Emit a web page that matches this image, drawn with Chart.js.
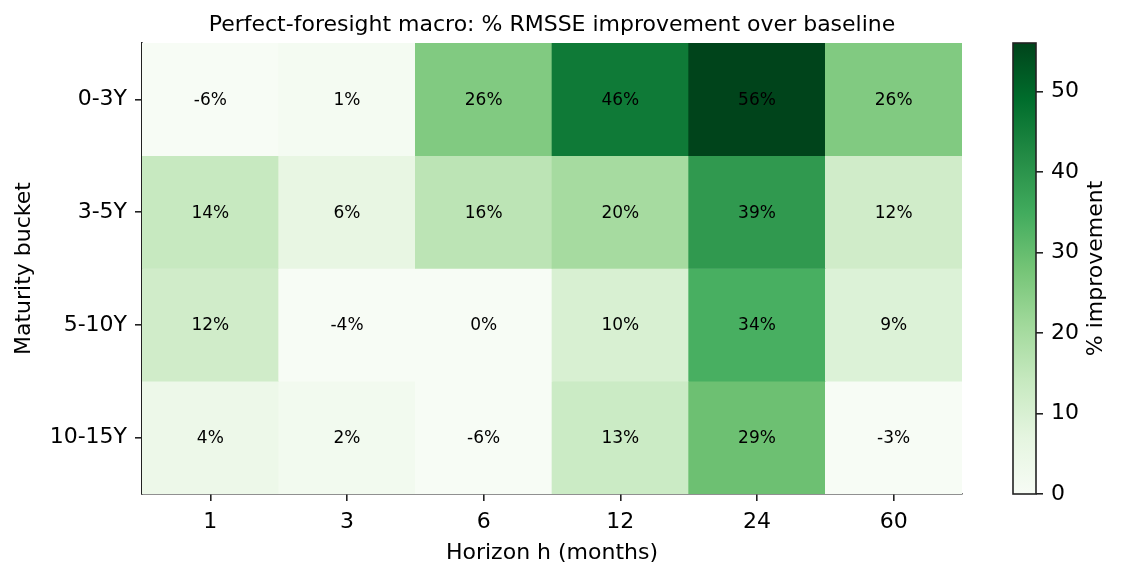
<!DOCTYPE html>
<html>
<head>
<meta charset="utf-8">
<script src="https://cdn.jsdelivr.net/npm/chart.js@4/dist/chart.umd.min.js"></script>
<style>
    body { margin: 0; background: #fff; }
    #wrap { position: relative; width: 1125px; height: 579px; }
    #wrap canvas { position: absolute; left: 0; top: 0; }
</style>
</head>
<body>
<div id="wrap">
    <canvas id="heat" width="1125" height="579"></canvas>
    <canvas id="cbar" width="1125" height="579"></canvas>
</div>
<script>
const horizons = ["1", "3", "6", "12", "24", "60"];
const buckets = ["0-3Y", "3-5Y", "5-10Y", "10-15Y"];
const improve0to3 = [-6, 1, 26, 46, 56, 26];
const improve3to5 = [14, 6, 16, 20, 39, 12];
const improve5to10 = [12, -4, 0, 10, 34, 9];
const improve10to15 = [4, 2, -6, 13, 29, -3];
const rows = [improve0to3, improve3to5, improve5to10, improve10to15];
const colorbarTicks = [0, 10, 20, 30, 40, 50];

// matplotlib "Greens"
const greens = ["#f7fcf5", "#e5f5e0", "#c7e9c0", "#a1d99b", "#74c476",
                "#41ab5d", "#238b45", "#006d2c", "#00441b"];
const vmin = 0;
const vmax = Math.max(...rows.flat());

function hexRgb(h) {
    return [1, 3, 5].map(i => parseInt(h.substr(i, 2), 16));
}

function greenAt(v) {
    let t = (v - vmin) / (vmax - vmin);
    t = Math.min(1, Math.max(0, t)) * (greens.length - 1);
    const i = Math.min(greens.length - 2, Math.floor(t));
    const f = t - i;
    const a = hexRgb(greens[i]), b = hexRgb(greens[i + 1]);
    const c = a.map((x, k) => Math.round(x + (b[k] - x) * f));
    return `rgb(${c[0]},${c[1]},${c[2]})`;
}

Chart.defaults.font.family = "'DejaVu Sans', sans-serif";
Chart.defaults.color = "#000";

const axisColor = "#222";

const cellLabels = {
    id: "cellLabels",
    afterDatasetsDraw(chart) {
        const ctx = chart.ctx;
        ctx.save();
        ctx.font = "17px 'DejaVu Sans'";
        ctx.textAlign = "center";
        ctx.textBaseline = "middle";
        ctx.fillStyle = "#000";
        chart.data.datasets.forEach((ds, i) => {
            chart.getDatasetMeta(i).data.forEach((bar, j) => {
                const p = bar.getProps(["x", "y", "base"], true);
                ctx.fillText(ds.values[j] + "%", p.x, (p.y + p.base) / 2 + 1);
            });
        });
        ctx.restore();
    }
};

new Chart(document.getElementById("heat"), {
    type: "bar",
    data: {
        labels: horizons,
        datasets: rows.map((vals, r) => ({
            label: buckets[r],
            data: vals.map(() => [r - 0.5, r + 0.5]),
            values: vals,
            backgroundColor: vals.map(greenAt),
            borderWidth: 0,
            barPercentage: 1,
            categoryPercentage: 1,
            grouped: false
        }))
    },
    options: {
        responsive: false,
        animation: false,
        devicePixelRatio: 1,
        layout: { padding: { left: 0, right: 163, top: 0, bottom: 0 } },
        plugins: {
            legend: { display: false },
            tooltip: { enabled: false },
            title: {
                display: true,
                text: "Perfect-foresight macro: % RMSSE improvement over baseline",
                fullSize: false,
                font: { size: 22, weight: "normal", lineHeight: 1.2 },
                padding: { top: 11.8, bottom: 4.8 }
            }
        },
        scales: {
            x: {
                type: "category",
                offset: true,
                grid: { display: true, drawOnChartArea: false, offset: false,
                        tickLength: 7, color: axisColor, lineWidth: 1.6 },
                border: { display: true, color: axisColor, width: 1.6 },
                ticks: { font: { size: 22 }, padding: 8, maxRotation: 0 },
                title: { display: true, text: "Horizon h (months)",
                         font: { size: 22 }, padding: { top: 0, bottom: 13 } },
                afterFit(scale) { scale.height = 85; }
            },
            y: {
                type: "linear",
                min: -0.5,
                max: 3.5,
                reverse: true,
                grid: { display: true, drawOnChartArea: false,
                        tickLength: 7, color: axisColor, lineWidth: 1.6 },
                border: { display: true, color: axisColor, width: 1.6 },
                ticks: { font: { size: 22 }, padding: 8,
                         callback: v => buckets[v] },
                afterBuildTicks(scale) {
                    scale.ticks = buckets.map((b, i) => ({ value: i }));
                },
                title: { display: true, text: "Maturity bucket",
                         font: { size: 22 }, padding: { top: 10.8, bottom: 0 } },
                afterFit(scale) { scale.width = 142; }
            }
        }
    },
    plugins: [cellLabels]
});

const colorbarFill = {
    id: "colorbarFill",
    beforeDatasetsDraw(chart) {
        const { ctx, chartArea: a } = chart;
        const g = ctx.createLinearGradient(0, a.bottom, 0, a.top);
        greens.forEach((c, i) => g.addColorStop(i / (greens.length - 1), c));
        ctx.save();
        ctx.fillStyle = g;
        ctx.fillRect(a.left, a.top, a.right - a.left, a.bottom - a.top);
        ctx.lineWidth = 1.6;
        ctx.strokeStyle = axisColor;
        ctx.strokeRect(a.left, a.top, a.right - a.left, a.bottom - a.top);
        ctx.restore();
    },
    afterDraw(chart) {
        const { ctx, chartArea: a } = chart;
        ctx.save();
        ctx.translate(a.right + 60, (a.top + a.bottom) / 2);
        ctx.rotate(-Math.PI / 2);
        ctx.font = "22px 'DejaVu Sans'";
        ctx.textAlign = "center";
        ctx.textBaseline = "middle";
        ctx.fillStyle = "#000";
        ctx.fillText("% improvement", 0, 0);
        ctx.restore();
    }
};

new Chart(document.getElementById("cbar"), {
    type: "line",
    data: { labels: ["c"], datasets: [] },
    options: {
        responsive: false,
        animation: false,
        devicePixelRatio: 1,
        layout: { padding: { left: 1013, right: 0, top: 43, bottom: 85 } },
        plugins: { legend: { display: false }, tooltip: { enabled: false } },
        scales: {
            x: { display: false },
            y: {
                type: "linear",
                position: "right",
                min: vmin,
                max: vmax,
                grid: { display: true, drawOnChartArea: false,
                        tickLength: 7, color: axisColor, lineWidth: 1.6 },
                border: { display: false },
                ticks: { font: { size: 22 }, padding: 8 },
                afterBuildTicks(scale) {
                    scale.ticks = colorbarTicks.map(v => ({ value: v }));
                },
                afterFit(scale) { scale.width = 89; }
            }
        }
    },
    plugins: [colorbarFill]
});
</script>
</body>
</html>
